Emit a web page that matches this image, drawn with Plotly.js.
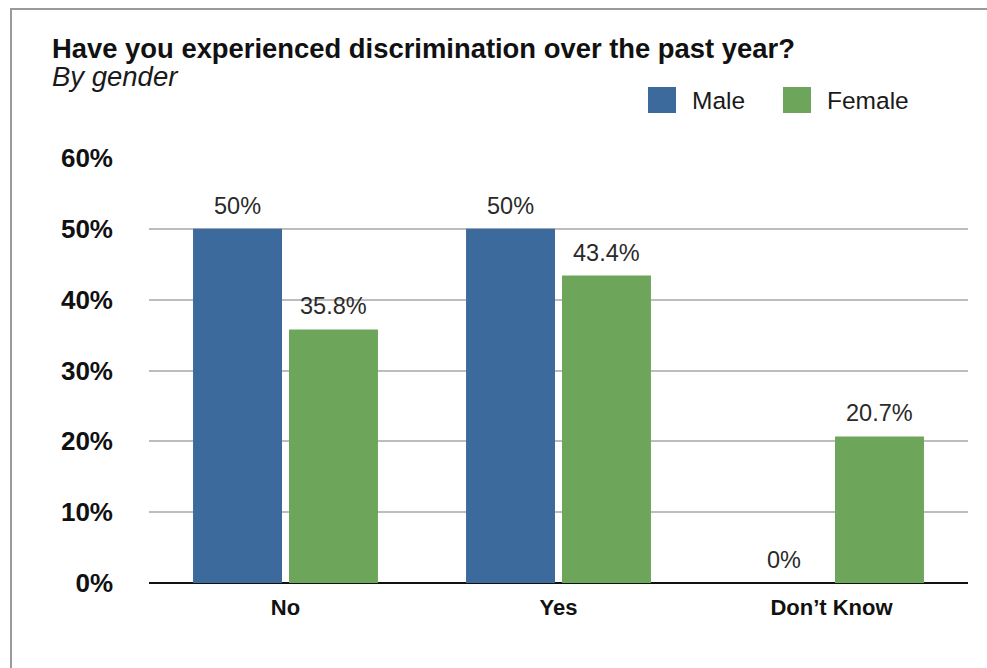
<!DOCTYPE html>
<html>
<head>
<meta charset="utf-8">
<script src="https://cdn.plot.ly/plotly-3.0.1.min.js"></script>
<style>
html,body{margin:0;padding:0;background:#fff;}
#chart{width:987px;height:668px;position:relative;}
#frame{position:absolute;left:10px;top:8px;right:0;bottom:0;border-top:2px solid #9a9a9a;border-left:2px solid #9a9a9a;pointer-events:none;}
</style>
</head>
<body>
<div id="chart"><div id="frame"></div></div>
<script>
const categories = ['No', 'Yes', 'Don’t Know'];
const maleValues = [50, 50, 0];
const femaleValues = [35.8, 43.4, 20.7];
const seriesNames = ['Male', 'Female'];
const yTickValues = [0, 10, 20, 30, 40, 50, 60];
const yTickLabels = ['0%', '10%', '20%', '30%', '40%', '50%', '60%'];

const blue = '#3C6A9C';
const green = '#6DA55B';
const font = 'Liberation Sans, Arial, sans-serif';

const W = 987, H = 668;
const margin = {l: 149, r: 19, t: 158, b: 85};
const bargap = 0.297, bargroupgap = 0.073;
const plotW = W - margin.l - margin.r;
const slotPx = plotW / categories.length * (1 - bargap) / 2;

const traces = [
  {type: 'bar', name: seriesNames[0], x: categories, y: maleValues, marker: {color: blue}, showlegend: false, hoverinfo: 'skip'},
  {type: 'bar', name: seriesNames[1], x: categories, y: femaleValues, marker: {color: green}, showlegend: false, hoverinfo: 'skip'}
];

const labelFont = {family: font, size: 23.5, color: '#2a2a2a'};
const valueAnnotations = [];
[maleValues, femaleValues].forEach((vals, s) => {
  vals.forEach((v, i) => {
    valueAnnotations.push({
      text: v + '%', xref: 'x', yref: 'y', x: categories[i], y: v,
      xanchor: 'center', yanchor: 'bottom', showarrow: false,
      xshift: (s === 0 ? -1 : 1) * slotPx / 2, yshift: 8, font: labelFont
    });
  });
});

const layout = {
  width: W, height: H,
  paper_bgcolor: 'rgba(0,0,0,0)', plot_bgcolor: 'rgba(0,0,0,0)',
  margin: margin,
  barmode: 'group', bargap: bargap, bargroupgap: bargroupgap,
  title: {text: '<b>Have you experienced discrimination over the past year?</b>',
          font: {family: font, size: 27.4, color: '#111'}, x: 52/W, xanchor: 'left', xref: 'container',
          y: 1 - 48/H, yanchor: 'middle', yref: 'container'},
  xaxis: {tickfont: {family: font, size: 22, color: '#111', weight: 'bold'}, showgrid: false, showline: false,
          ticks: '', ticklabelstandoff: 9, fixedrange: true},
  yaxis: {range: [0, 60], tickvals: yTickValues, ticktext: yTickLabels,
          tickfont: {family: font, size: 26, color: '#111', weight: 'bold'},
          gridcolor: '#BDBDBD', gridwidth: 2, zeroline: true, zerolinecolor: '#111', zerolinewidth: 2.5,
          showline: false, ticks: '', ticklabelstandoff: 35, fixedrange: true},
  font: {family: font},
  annotations: valueAnnotations.concat([
    {text: '<i>By gender</i>', xref: 'paper', yref: 'paper', x: (50 - margin.l)/plotW, y: (583-77)/425, xanchor: 'left', yanchor: 'middle',
     showarrow: false, font: {family: font, size: 27.5, color: '#1a1a1a'}},
    {text: seriesNames[0], xref: 'paper', yref: 'paper', x: (690 - margin.l)/plotW, y: (583-100)/425, xanchor: 'left', yanchor: 'middle',
     showarrow: false, font: {family: font, size: 24.5, color: '#1a1a1a'}},
    {text: seriesNames[1], xref: 'paper', yref: 'paper', x: (825 - margin.l)/plotW, y: (583-100)/425, xanchor: 'left', yanchor: 'middle',
     showarrow: false, font: {family: font, size: 24.5, color: '#1a1a1a'}}
  ]),
  shapes: [
    {type: 'rect', xref: 'paper', yref: 'paper', x0: (648 - margin.l)/plotW, x1: (676 - margin.l)/plotW, y0: (583-113)/425, y1: (583-87)/425,
     fillcolor: blue, line: {width: 0}},
    {type: 'rect', xref: 'paper', yref: 'paper', x0: (783 - margin.l)/plotW, x1: (811 - margin.l)/plotW, y0: (583-113)/425, y1: (583-87)/425,
     fillcolor: green, line: {width: 0}}
  ]
};

Plotly.newPlot('chart', traces, layout, {displayModeBar: false, staticPlot: true});
</script>
</body>
</html>
